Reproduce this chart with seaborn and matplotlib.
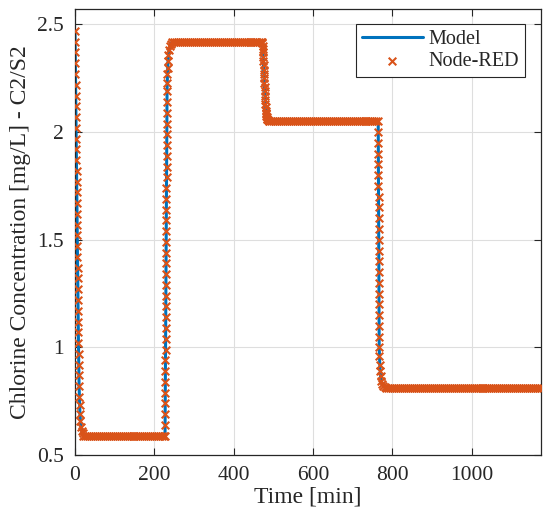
import matplotlib
matplotlib.use("Agg")
import numpy as np
import matplotlib.pyplot as plt
import seaborn as sns

# ---- data ----
# model response (key points of the simulated curve)
model_time = [0, 8.7, 10.3, 12.5, 15, 19, 22, 227, 232.1, 233.2, 234.7, 237, 241.5, 246,
              472, 480, 482, 484, 488, 492, 764.5, 767.0, 768.5, 770.5, 774, 781, 790, 1175]
model_conc = [2.47, 1.02, 0.82, 0.69, 0.63, 0.60, 0.59, 0.59, 2.19, 2.27, 2.33, 2.38, 2.41, 2.42,
              2.42, 2.13, 2.085, 2.064, 2.053, 2.05, 2.05, 1.00, 0.92, 0.865, 0.83, 0.814, 0.81, 0.81]

# Node-RED samples, by segment
drop1_time = [0.0, 0.3, 0.6, 0.9, 1.2, 1.5, 1.8, 2.1, 2.4, 2.7, 3.0, 3.3, 3.6, 3.9, 4.2,
              4.5, 4.8, 5.1, 5.4, 5.7, 6.0, 6.3, 6.6, 6.9, 7.2, 7.5, 7.8, 8.1, 8.4, 8.7,
              9.0, 9.4, 9.8, 10.3, 10.9, 11.6, 12.5, 13.5, 15, 17, 19]
drop1_conc = [2.47, 2.42, 2.37, 2.32, 2.27, 2.22, 2.17, 2.12, 2.07, 2.02, 1.97, 1.92, 1.87, 1.82, 1.77,
              1.72, 1.67, 1.62, 1.57, 1.52, 1.47, 1.42, 1.37, 1.32, 1.27, 1.22, 1.17, 1.12, 1.07, 1.02,
              0.97, 0.92, 0.87, 0.82, 0.77, 0.73, 0.69, 0.66, 0.63, 0.61, 0.60]

low1_time = [20, 25, 30, 35, 40, 45, 50, 55, 60, 65, 70, 75, 80, 85, 90, 95, 100, 105, 110, 115, 120,
             125, 130, 135, 140, 145, 150, 155, 160, 165, 170, 175, 180, 185, 190, 195, 200, 205,
             210, 215, 220, 225]
low1_conc = [0.59, 0.59, 0.59, 0.59, 0.59, 0.59, 0.59, 0.59, 0.59, 0.59, 0.59, 0.59, 0.59, 0.59,
             0.59, 0.59, 0.59, 0.59, 0.59, 0.59, 0.59, 0.59, 0.59, 0.59, 0.59, 0.59, 0.59, 0.59,
             0.59, 0.59, 0.59, 0.59, 0.59, 0.59, 0.59, 0.59, 0.59, 0.59, 0.59, 0.59, 0.59, 0.59]

rise_time = [227.0, 227.16, 227.32, 227.48, 227.64, 227.8, 227.96, 228.12, 228.28, 228.44, 228.6,
             228.76, 228.92, 229.08, 229.24, 229.4, 229.56, 229.72, 229.88, 230.04, 230.2, 230.36,
             230.52, 230.68, 230.84, 231.0, 231.16, 231.32, 231.48, 231.64, 231.8, 231.96, 232.1,
             232.6, 233.2, 233.9, 234.7, 235.7, 237, 239, 241.5, 244]
rise_conc = [0.59, 0.64, 0.69, 0.74, 0.79, 0.84, 0.89, 0.94, 0.99, 1.04, 1.09,
             1.14, 1.19, 1.24, 1.29, 1.34, 1.39, 1.44, 1.49, 1.54, 1.59, 1.64,
             1.69, 1.74, 1.79, 1.84, 1.89, 1.94, 1.99, 2.04, 2.09, 2.14, 2.19,
             2.23, 2.27, 2.30, 2.33, 2.36, 2.38, 2.40, 2.41, 2.42]

high_time = [250, 255, 260, 265, 270, 275, 280, 285, 290, 295, 300, 305, 310, 315, 320, 325, 330,
             335, 340, 345, 350, 355, 360, 365, 370, 375, 380, 385, 390, 395, 400, 405, 410, 415,
             420, 425, 430, 435, 440, 445, 450, 455, 460, 465, 470]
high_conc = [2.42, 2.42, 2.42, 2.42, 2.42, 2.42, 2.42, 2.42, 2.42, 2.42, 2.42, 2.42, 2.42, 2.42,
             2.42, 2.42, 2.42, 2.42, 2.42, 2.42, 2.42, 2.42, 2.42, 2.42, 2.42, 2.42, 2.42, 2.42,
             2.42, 2.42, 2.42, 2.42, 2.42, 2.42, 2.42, 2.42, 2.42, 2.42, 2.42, 2.42, 2.42, 2.42,
             2.42, 2.42, 2.42]

drop2_time = [472, 472.5, 473, 473.5, 474, 474.5, 475, 475.5, 476, 476.5, 477, 477.5, 478, 478.5,
              479, 479.5, 480, 480.5, 481, 481.5, 482, 482.5, 483, 484, 485, 486, 488, 490]
drop2_conc = [2.42, 2.415, 2.40, 2.385, 2.37, 2.35, 2.33, 2.31, 2.29, 2.27, 2.25, 2.23, 2.21, 2.19,
              2.17, 2.15, 2.13, 2.115, 2.10, 2.09, 2.082, 2.076, 2.07, 2.063, 2.059, 2.056, 2.053, 2.051]

mid_time = [495, 500, 505, 510, 515, 520, 525, 530, 535, 540, 545, 550, 555, 560, 565, 570, 575,
            580, 585, 590, 595, 600, 605, 610, 615, 620, 625, 630, 635, 640, 645, 650, 655, 660,
            665, 670, 675, 680, 685, 690, 695, 700, 705, 710, 715, 720, 725, 730, 735, 740, 745,
            750, 755, 760]
mid_conc = [2.05, 2.05, 2.05, 2.05, 2.05, 2.05, 2.05, 2.05, 2.05, 2.05, 2.05, 2.05, 2.05, 2.05,
            2.05, 2.05, 2.05, 2.05, 2.05, 2.05, 2.05, 2.05, 2.05, 2.05, 2.05, 2.05, 2.05, 2.05,
            2.05, 2.05, 2.05, 2.05, 2.05, 2.05, 2.05, 2.05, 2.05, 2.05, 2.05, 2.05, 2.05, 2.05,
            2.05, 2.05, 2.05, 2.05, 2.05, 2.05, 2.05, 2.05, 2.05, 2.05, 2.05, 2.05]

drop3_time = [764.5, 764.62, 764.74, 764.86, 764.98, 765.1, 765.22, 765.34, 765.46, 765.58, 765.7,
              765.82, 765.94, 766.06, 766.18, 766.3, 766.42, 766.54, 766.66, 766.78, 766.9, 767.0,
              767.6, 768.5, 769.5, 770.5, 772, 774, 777, 781, 785]
drop3_conc = [2.05, 2.00, 1.95, 1.90, 1.85, 1.80, 1.75, 1.70, 1.65, 1.60, 1.55,
              1.50, 1.45, 1.40, 1.35, 1.30, 1.25, 1.20, 1.15, 1.10, 1.05, 1.00,
              0.96, 0.92, 0.89, 0.865, 0.845, 0.83, 0.82, 0.814, 0.811]

low2_time = [790, 795, 800, 805, 810, 815, 820, 825, 830, 835, 840, 845, 850, 855, 860, 865, 870,
             875, 880, 885, 890, 895, 900, 905, 910, 915, 920, 925, 930, 935, 940, 945, 950, 955,
             960, 965, 970, 975, 980, 985, 990, 995, 1000, 1005, 1010, 1015, 1020, 1025, 1030,
             1035, 1040, 1045, 1050, 1055, 1060, 1065, 1070, 1075, 1080, 1085, 1090, 1095, 1100,
             1105, 1110, 1115, 1120, 1125, 1130, 1135, 1140, 1145, 1150, 1155, 1160, 1165, 1170, 1175]
low2_conc = [0.81, 0.81, 0.81, 0.81, 0.81, 0.81, 0.81, 0.81, 0.81, 0.81, 0.81, 0.81, 0.81, 0.81,
             0.81, 0.81, 0.81, 0.81, 0.81, 0.81, 0.81, 0.81, 0.81, 0.81, 0.81, 0.81, 0.81, 0.81,
             0.81, 0.81, 0.81, 0.81, 0.81, 0.81, 0.81, 0.81, 0.81, 0.81, 0.81, 0.81, 0.81, 0.81,
             0.81, 0.81, 0.81, 0.81, 0.81, 0.81, 0.81, 0.81, 0.81, 0.81, 0.81, 0.81, 0.81, 0.81,
             0.81, 0.81, 0.81, 0.81, 0.81, 0.81, 0.81, 0.81, 0.81, 0.81, 0.81, 0.81, 0.81, 0.81,
             0.81, 0.81, 0.81, 0.81, 0.81, 0.81, 0.81, 0.81]

nodered_time = (drop1_time + low1_time + rise_time + high_time + drop2_time
                + mid_time + drop3_time + low2_time)
nodered_conc = (drop1_conc + low1_conc + rise_conc + high_conc + drop2_conc
                + mid_conc + drop3_conc + low2_conc)

x_ticks = [0, 200, 400, 600, 800, 1000]
y_ticks = [0.5, 1, 1.5, 2, 2.5]
y_tick_labels = ['0.5', '1', '1.5', '2', '2.5']

MODEL_COLOR = '#0072BD'
NODE_COLOR = '#D95319'
AXIS_COLOR = '#262626'

# ---- style ----
sns.set_style("ticks")
plt.rcParams['font.family'] = ['Liberation Serif', 'DejaVu Serif']

fig = plt.figure(figsize=(5.5, 5.24), dpi=100)
ax = fig.add_axes([75 / 550, 69 / 524, 466 / 550, 446 / 524])

sns.lineplot(x=model_time, y=model_conc, ax=ax, color=MODEL_COLOR, linewidth=2.2,
             label='Model', sort=False, zorder=2)
sns.scatterplot(x=nodered_time, y=nodered_conc, ax=ax, marker='x', color=NODE_COLOR,
                s=30, linewidth=1.5, label='Node-RED', zorder=3)

ax.set_xlim(0, 1175)
ax.set_ylim(0.5, 2.572)
ax.set_xticks(x_ticks)
ax.set_yticks(y_ticks)
ax.set_yticklabels(y_tick_labels)

ax.grid(True, color='#dedede', linewidth=0.8)
ax.set_axisbelow(True)
ax.tick_params(direction='in', top=True, right=True, length=5, width=0.8,
               labelsize=15.5, colors=AXIS_COLOR)
ax.tick_params(axis='x', pad=8)
ax.tick_params(axis='y', pad=8)
for sp in ax.spines.values():
    sp.set_color(AXIS_COLOR)
    sp.set_linewidth(0.9)

ax.set_xlabel('Time [min]', fontsize=17, color=AXIS_COLOR, labelpad=1)
ax.set_ylabel('Chlorine Concentration [mg/L] - C2/S2', fontsize=17, color=AXIS_COLOR,
              labelpad=4)

leg = ax.legend(loc='upper right', bbox_to_anchor=(0.966, 0.966), fontsize=14.5,
                frameon=True, fancybox=False, handlelength=3.0, handletextpad=0.3,
                borderpad=0.3, labelspacing=0.15, borderaxespad=0)
leg.get_frame().set_edgecolor(AXIS_COLOR)
leg.get_frame().set_linewidth(0.8)
leg.get_frame().set_alpha(1)

fig.savefig('out.png', dpi=100)
